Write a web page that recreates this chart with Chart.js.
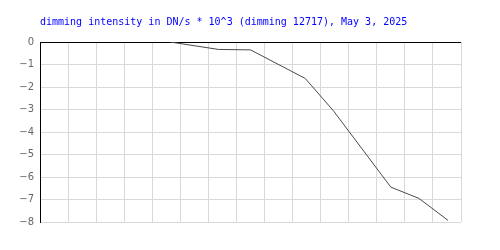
<!DOCTYPE html>
<html>
<head>
<meta charset="utf-8">
<script src="https://cdn.jsdelivr.net/npm/chart.js@4"></script>
<style>
html,body{margin:0;padding:0;background:#fff;}
#wrap{width:500px;height:250px;}
</style>
</head>
<body>
<div id="wrap"><canvas id="c" width="500" height="250"></canvas></div>
<script>
const titleText = "dimming intensity in DN/s * 10^3 (dimming 12717), May 3, 2025";
const xValues = [4.64, 6.36, 7.5, 9.45, 10.45, 12.5, 13.5, 14.54];
const yValues = [0, -0.33, -0.35, -1.62, -3.05, -6.45, -6.95, -7.93];
const yTicks = [0, -1, -2, -3, -4, -5, -6, -7, -8];

const points = xValues.map((x, i) => ({x: x, y: yValues[i]}));

new Chart(document.getElementById('c'), {
  type: 'line',
  data: {
    datasets: [{
      data: points,
      borderColor: '#4a4a4a',
      borderWidth: 1,
      pointRadius: 0,
      tension: 0,
      fill: false
    }]
  },
  options: {
    responsive: false,
    animation: false,
    devicePixelRatio: 1,
    layout: { padding: { left: 0, right: 39, top: 0, bottom: 28 } },
    plugins: {
      legend: { display: false },
      tooltip: { enabled: false },
      title: {
        display: true,
        text: titleText,
        align: 'start',
        fullSize: false,
        color: '#0000ff',
        font: { family: 'DejaVu Sans Mono', size: 10, weight: 'normal' },
        padding: { top: 16, bottom: 14 }
      }
    },
    scales: {
      x: {
        type: 'linear',
        min: 0,
        max: 15,
        ticks: { display: false, stepSize: 1 },
        grid: { color: '#d9d9d9', lineWidth: 1, drawTicks: false },
        border: { display: false }
      },
      y: {
        min: -8,
        max: 0,
        afterFit: (s) => { s.width = 40; },
        afterBuildTicks: (s) => { s.ticks = yTicks.map(v => ({value: v})); },
        ticks: {
          color: '#666666',
          font: { family: 'DejaVu Sans', size: 10 },
          padding: 6,
          callback: (v) => String(v).replace('-', '\u2212')
        },
        grid: {
          color: (ctx) => ctx.tick && ctx.tick.value === 0 ? '#000000' : '#d9d9d9',
          lineWidth: 1,
          drawTicks: false
        },
        border: { display: true, color: '#000000', width: 1 }
      }
    }
  }
});
</script>
</body>
</html>
